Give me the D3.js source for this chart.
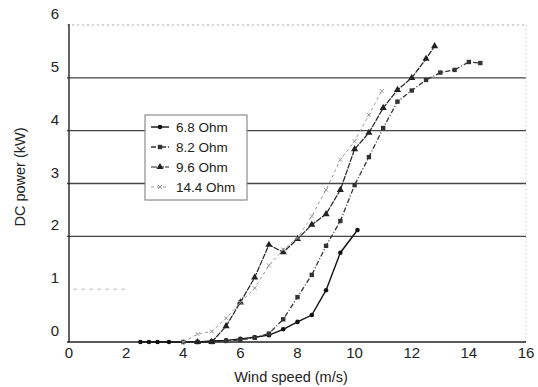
<!DOCTYPE html>
<html lang="en">
  <head>
    <meta charset="UTF-8" />
    <title>DC power vs wind speed</title>
    <style>
      body { margin: 0; background: #fff; }
      svg text { font-family: "Liberation Sans", Arial, sans-serif; fill: #222; }
    </style>
  </head>
  <body>
    <div id="chart"></div>
    <script src="https://cdn.jsdelivr.net/npm/d3@7/dist/d3.min.js"></script>
    <script>
      // wind speed (m/s), DC power (kW)
      var ohm68 = [[2.5,0],[2.8,0],[3.1,0],[3.5,0],[4,0],[4.5,0],[5,0.02],[5.5,0.03],[6,0.06],[6.5,0.09],
                   [7,0.13],[7.5,0.24],[8,0.38],[8.5,0.51],[9,0.98],[9.5,1.69],[10.1,2.12]];
      var ohm82 = [[4,0],[4.5,0],[5,0],[5.5,0.02],[6,0.04],[6.5,0.08],[7,0.16],[7.5,0.43],[8,0.85],
                   [8.5,1.27],[9,1.82],[9.5,2.29],[10,2.97],[10.5,3.5],[11,4.05],[11.5,4.55],[12,4.76],
                   [12.5,4.96],[13,5.1],[13.5,5.15],[14,5.3],[14.4,5.28]];
      var ohm96 = [[4.5,0],[5,0],[5.5,0.3],[6,0.75],[6.5,1.22],[7,1.84],[7.5,1.7],[8,1.95],[8.5,2.22],
                   [9,2.42],[9.5,2.88],[10,3.65],[10.5,3.96],[11,4.43],[11.5,4.77],[12,5.0],[12.5,5.36],[12.8,5.6]];
      var ohm144 = [[4,0],[4.5,0.15],[5,0.2],[5.5,0.45],[6,0.75],[6.5,1.02],[7,1.45],[7.5,1.75],[8,1.97],
                    [8.5,2.38],[9,2.88],[9.5,3.45],[10,3.8],[10.5,4.3],[10.95,4.75]];
      var seriesNames = ["6.8 Ohm", "8.2 Ohm", "9.6 Ohm", "14.4 Ohm"];
      var xTicks = [0, 2, 4, 6, 8, 10, 12, 14, 16];
      var yTicks = [0, 1, 2, 3, 4, 5, 6];

      var series = [
        { name: seriesNames[0], data: ohm68, color: "#111", dash: null, shape: "circle", width: 1.4 },
        { name: seriesNames[1], data: ohm82, color: "#333", dash: "5,2,1,2", shape: "square", width: 1.3 },
        { name: seriesNames[2], data: ohm96, color: "#222", dash: "6,1", shape: "triangle", width: 1.2 },
        { name: seriesNames[3], data: ohm144, color: "#999", dash: "3,3", shape: "cross", width: 1 }
      ];

      var W = 538, H = 387;
      var margin = { top: 25, right: 12, bottom: 45, left: 69 };

      var svg = d3.select("#chart").append("svg")
                  .attr("width", W)
                  .attr("height", H);

      var x = d3.scaleLinear().domain([0, 16]).range([margin.left, W - margin.right]);
      var y = d3.scaleLinear().domain([0, 6]).range([H - margin.bottom, margin.top]);

      // grid lines
      svg.selectAll(".grid")
         .data(yTicks.filter(function(d) { return d >= 2 && d <= 5; }))
         .enter().append("line")
         .attr("x1", x(0) - 2).attr("x2", x(16))
         .attr("y1", function(d) { return y(d); })
         .attr("y2", function(d) { return y(d); })
         .attr("stroke", "#444").attr("stroke-width", 1.3);

      // top line, dotted
      svg.append("line")
         .attr("x1", x(0) - 2).attr("x2", x(16))
         .attr("y1", y(6)).attr("y2", y(6))
         .attr("stroke", "#aaa").attr("stroke-width", 1.2)
         .attr("stroke-dasharray", "2,3");
      // faint line at 1
      svg.append("line")
         .attr("x1", x(0) + 4).attr("x2", x(2))
         .attr("y1", y(1)).attr("y2", y(1))
         .attr("stroke", "#bbb").attr("stroke-width", 1)
         .attr("stroke-dasharray", "4,4");
      // right border, dotted
      svg.append("line")
         .attr("x1", x(16)).attr("x2", x(16))
         .attr("y1", y(6)).attr("y2", y(0))
         .attr("stroke", "#bbb").attr("stroke-width", 1)
         .attr("stroke-dasharray", "1,3");

      // axes
      svg.append("line")
         .attr("x1", x(0)).attr("x2", x(0))
         .attr("y1", y(6) - 1).attr("y2", y(0))
         .attr("stroke", "#222").attr("stroke-width", 1.4);
      svg.append("line")
         .attr("x1", x(0) - 2).attr("x2", x(16))
         .attr("y1", y(0)).attr("y2", y(0))
         .attr("stroke", "#222").attr("stroke-width", 1.6);

      svg.selectAll(".xlab")
         .data(xTicks)
         .enter().append("text")
         .attr("x", function(d) { return x(d); })
         .attr("y", y(0) + 16)
         .attr("text-anchor", "middle")
         .style("font-size", "15px")
         .text(function(d) { return d; });

      svg.selectAll(".ylab")
         .data(yTicks)
         .enter().append("text")
         .attr("x", x(0) - 10)
         .attr("y", function(d) { return y(d) - 6; })
         .attr("text-anchor", "end")
         .style("font-size", "15px")
         .text(function(d) { return d; });

      svg.append("text")
         .attr("text-anchor", "middle")
         .attr("x", 291).attr("y", 382)
         .style("font-size", "14.5px")
         .text("Wind speed (m/s)");
      svg.append("text")
         .attr("text-anchor", "middle")
         .attr("transform", "translate(25,177)rotate(-90)")
         .style("font-size", "14.5px")
         .text("DC power (kW)");

      // curves
      var line = d3.line()
                   .x(function(d) { return x(d[0]); })
                   .y(function(d) { return y(d[1]); });

      function drawMarker(g, shape, color) {
        if (shape === "circle") {
          g.append("circle").attr("r", 2.3).attr("fill", color);
        } else if (shape === "square") {
          g.append("rect").attr("x", -2.2).attr("y", -2.2).attr("width", 4.4).attr("height", 4.4)
           .attr("fill", color);
        } else if (shape === "triangle") {
          g.append("path").attr("d", d3.symbol().type(d3.symbolTriangle).size(22)).attr("fill", color);
        } else {
          g.append("path").attr("d", "M-2,-2L2,2M-2,2L2,-2").attr("stroke", color).attr("stroke-width", 1);
        }
      }

      series.forEach(function(s) {
        svg.append("path")
           .datum(s.data)
           .attr("fill", "none")
           .attr("stroke", s.color)
           .attr("stroke-width", s.width)
           .attr("stroke-dasharray", s.dash)
           .attr("d", line);
        s.data.forEach(function(d) {
          var g = svg.append("g").attr("transform", "translate(" + x(d[0]) + "," + y(d[1]) + ")");
          drawMarker(g, s.shape, s.color);
        });
      });

      // legend
      var legend = svg.append("g").attr("transform", "translate(145,115)");
      legend.append("rect")
            .attr("width", 102).attr("height", 85)
            .attr("fill", "#fff").attr("stroke", "#777").attr("stroke-width", 1);
      series.forEach(function(s, i) {
        var ly = 12 + i * 20;
        legend.append("line")
              .attr("x1", 6).attr("x2", 24).attr("y1", ly).attr("y2", ly)
              .attr("stroke", s.color).attr("stroke-width", s.width)
              .attr("stroke-dasharray", s.dash);
        drawMarker(legend.append("g").attr("transform", "translate(15," + ly + ")"), s.shape, s.color);
        legend.append("text")
              .attr("x", 31).attr("y", ly + 5)
              .style("font-size", "13.5px")
              .text(s.name);
      });
    </script>
  </body>
</html>
